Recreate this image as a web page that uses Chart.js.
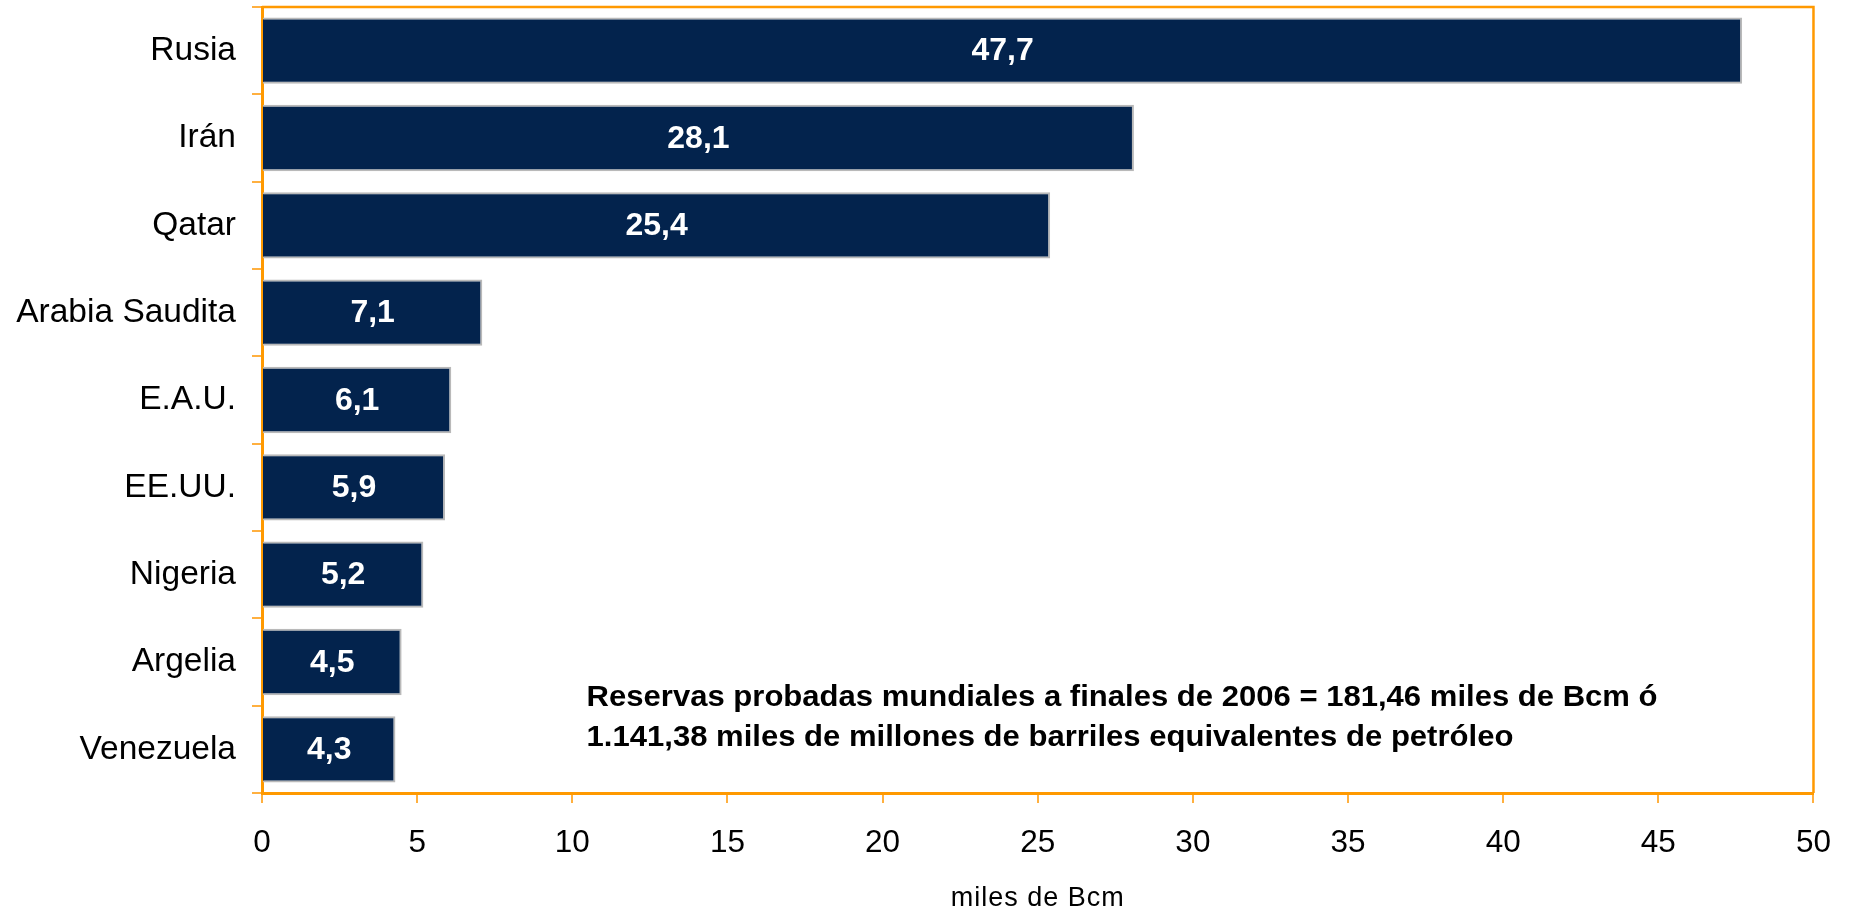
<!DOCTYPE html>
<html lang="es">
<head>
  <meta charset="UTF-8">
  <title>Reservas probadas de gas</title>
  <script src="https://cdn.jsdelivr.net/npm/chart.js@4/dist/chart.umd.min.js"></script>
  <style>
  html, body { margin: 0; padding: 0; background: #fff; }
  #wrap { width: 1852px; height: 913px; }
  </style>
</head>
<body>
  <div id="wrap"><canvas id="myChart" width="1852" height="913"></canvas></div>
  <script>
    var countries = ['Rusia', 'Irán', 'Qatar', 'Arabia Saudita', 'E.A.U.', 'EE.UU.', 'Nigeria', 'Argelia', 'Venezuela']
    var reserves = [47.7, 28.1, 25.4, 7.1, 6.1, 5.9, 5.2, 4.5, 4.3]
    var xTicks = [0, 5, 10, 15, 20, 25, 30, 35, 40, 45, 50]
    var axisTitle = 'miles de Bcm'
    var note = [
      'Reservas probadas mundiales a finales de 2006 = 181,46 miles de Bcm ó',
      '1.141,38 miles de millones de barriles equivalentes de petróleo'
    ]

    var orange = '#ff9900'
    var navy = '#03234d'
    var font = '"Liberation Sans", Arial, sans-serif'

    // white values inside the bars, orange frame, axis title, note text
    var extras = {
      id: 'extras',
      afterDatasetsDraw(chart) {
        const ctx = chart.ctx
        const area = chart.chartArea
        const meta = chart.getDatasetMeta(0)
        ctx.save()
        ctx.fillStyle = '#fff'
        ctx.font = 'bold 32px ' + font
        ctx.textAlign = 'center'
        ctx.textBaseline = 'middle'
        meta.data.forEach((bar, i) => {
          ctx.fillText(reserves[i].toFixed(1).replace('.', ','), (bar.x + bar.base) / 2, bar.y + 1)
        })

        ctx.strokeStyle = orange
        ctx.lineWidth = 2.5
        ctx.beginPath()
        ctx.moveTo(area.left, area.top)
        ctx.lineTo(area.right, area.top)
        ctx.lineTo(area.right, area.bottom)
        ctx.stroke()

        ctx.fillStyle = '#000'
        ctx.font = '27px ' + font
        ctx.letterSpacing = '1px'
        ctx.fillText(axisTitle, (area.left + area.right) / 2, 899)
        ctx.letterSpacing = '0px'

        ctx.font = 'bold 29px ' + font
        ctx.textAlign = 'left'
        ctx.textBaseline = 'alphabetic'
        const x0 = chart.scales.x.getPixelForValue(10.46)
        const w1 = ctx.measureText(note[0]).width
        const sx = 1071 / w1
        ctx.translate(x0, 0)
        ctx.scale(sx, 1)
        ctx.fillText(note[0], 0, 706)
        ctx.fillText(note[1], 0, 746)
        ctx.restore()
      }
    }

    const ctx = document.getElementById('myChart').getContext('2d')
    const chart = new Chart(ctx, {
      type: 'bar',
      data: {
        labels: countries,
        datasets: [{
          data: reserves,
          backgroundColor: navy,
          borderColor: '#b9b9b9',
          borderWidth: 2,
          categoryPercentage: 1,
          barPercentage: 0.76
        }]
      },
      options: {
        indexAxis: 'y',
        responsive: false,
        animation: false,
        layout: { padding: { top: 7, right: 37, left: 0, bottom: 0 } },
        plugins: {
          legend: { display: false },
          tooltip: { enabled: false }
        },
        scales: {
          x: {
            min: 0,
            max: 50,
            afterFit: s => { s.height = 120 },
            afterBuildTicks: s => { s.ticks = xTicks.map(v => ({ value: v })) },
            border: { color: orange, width: 3 },
            grid: { drawOnChartArea: false, tickLength: 10, color: '#ffb040', lineWidth: 2 },
            ticks: {
              color: '#000',
              padding: 21,
              font: { family: font, size: 31.5 }
            }
          },
          y: {
            afterFit: s => { s.width = 262; s.paddingTop = 0; s.paddingBottom = 0 },
            border: { color: orange, width: 3 },
            grid: { drawOnChartArea: false, tickLength: 10, color: '#ffb040', lineWidth: 2 },
            ticks: {
              color: '#000',
              padding: 16,
              font: { family: font, size: 33.5 }
            }
          }
        }
      },
      plugins: [extras]
    })
  </script>
</body>
</html>
